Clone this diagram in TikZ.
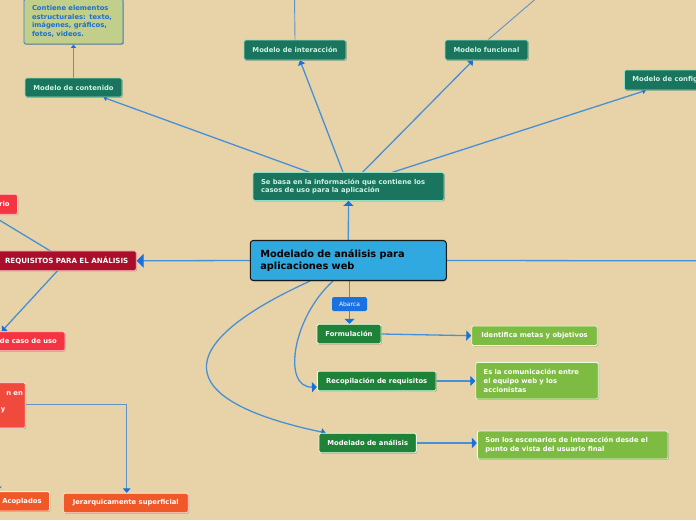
\documentclass[tikz,border=0pt]{standalone}
\usepackage{fontspec}
\usetikzlibrary{arrows.meta,shadows,calc}
\newfontfamily\dvsfam{DejaVu Sans}
\newcommand\dvs{\dvsfam\bfseries\fontsize{6.8}{8.7}\selectfont}
\newcommand\dvsbig{\dvsfam\bfseries\fontsize{9.8}{11.7}\selectfont}
\newcommand\dvssmall{\dvsfam\fontsize{6}{7}\selectfont}
\definecolor{bgc}{RGB}{232,211,168}
\definecolor{edgec}{RGB}{70,144,214}
\definecolor{arrc}{RGB}{22,112,224}
\definecolor{tealf}{RGB}{26,117,94}
\definecolor{tealb}{RGB}{150,222,196}
\definecolor{tealt}{RGB}{206,242,226}
\definecolor{centf}{RGB}{48,168,224}
\definecolor{abf}{RGB}{24,114,226}
\definecolor{grf}{RGB}{30,130,56}
\definecolor{lgf}{RGB}{126,187,66}
\definecolor{drf}{RGB}{170,14,42}
\definecolor{brf}{RGB}{244,52,64}
\definecolor{nenf}{RGB}{240,74,60}
\definecolor{orf}{RGB}{240,88,40}
\definecolor{olf}{RGB}{194,207,138}
\definecolor{olb}{RGB}{48,128,210}
\definecolor{olt}{RGB}{30,110,208}
\definecolor{thinc}{RGB}{96,146,196}
\pgfdeclarelayer{bgl}
\pgfdeclarelayer{edl}
\pgfsetlayers{bgl,edl,main}
\tikzset{
  basebox/.style={rounded corners=1.5pt, line width=0.8pt, inner xsep=8pt, inner ysep=2pt,
    font=\dvs, drop shadow={shadow xshift=0.8pt, shadow yshift=-0.8pt, opacity=0.25, fill=black}},
  tealbox/.style={basebox, fill=tealf, draw=tealb, text=tealt},
  olivebox/.style={basebox, fill=olf, draw=olb, text=olt},
  centralbox/.style={basebox, rounded corners=3pt, fill=centf, draw=black!90, line width=1.1pt, text=black, font=\dvsbig, inner xsep=10pt},
  abarcabox/.style={rounded corners=1.5pt, fill=abf, draw=none, text=white, font=\dvssmall, inner sep=1pt},
  greenbox/.style={basebox, fill=grf, draw=white!90!green, text=white},
  lgreenbox/.style={basebox, fill=lgf, draw=white!90!green, text=white},
  dredbox/.style={basebox, fill=drf, draw=red!25, text=white, font={\dvsfam\bfseries\fontsize{7.1}{8.7}\selectfont}},
  bredbox/.style={basebox, fill=brf, draw=red!20, text=white},
  nenbox/.style={basebox, fill=nenf, draw=white!90!red, text=white},
  orangebox/.style={basebox, fill=orf, draw=white!90!red, text=white},
  edge/.style={draw=edgec, line width=1.3pt},
  thinedge/.style={draw=thinc, line width=0.9pt},
  tipm/.style={-{Triangle[width=10pt,length=5pt,color=arrc]}},
  tipl/.style={-{Triangle[width=14pt,length=7pt,color=arrc]}},
  tips/.style={-{Triangle[width=5pt,length=3.5pt,color=arrc]}},
  tipmid/.style={-{Triangle[width=7.5pt,length=4.5pt,color=arrc]}},
}
\begin{document}
\begin{tikzpicture}[x=1pt,y=-1pt]
\useasboundingbox (0,0) rectangle (696,520);
\begin{pgfonlayer}{bgl}
  \fill[bgc] (0,0) rectangle (696,520);
\end{pgfonlayer}

% nodes
\node[olivebox, text width=83pt, align=left, minimum height=45pt] (contiene) at (73.5,21.5)
  {Contiene elementos\\estructurales: texto,\\imágenes, gráficos,\\fotos, videos.};
\node[tealbox, minimum width=97pt, minimum height=19pt] (contenido) at (73.5,87.5) {Modelo de contenido};
\node[tealbox, minimum width=102pt, minimum height=20pt] (interaccion) at (295,50) {Modelo de interacción};
\node[tealbox, minimum width=83pt, minimum height=20pt] (funcional) at (486.5,50) {Modelo funcional};
\node[tealbox, anchor=west, minimum height=20pt] (config) at (624,80) {Modelo de configuración};
\node[tealbox, text width=175pt, align=left, minimum height=28pt] (sebasa) at (348.5,186.5)
  {Se basa en la información que contiene los\\casos de uso para la aplicación};
\node[centralbox, text width=176pt, align=left, minimum height=40pt] (central) at (348.3,260.5)
  {Modelado de análisis para\\aplicaciones web};
\node[abarcabox, minimum width=35pt, minimum height=14pt] (abarca) at (349.5,304) {Abarca};
\node[greenbox, minimum width=64pt, minimum height=19.5pt] (formulacion) at (349,334) {Formulación};
\node[lgreenbox, minimum width=125.6pt, minimum height=19.5pt] (identifica) at (534.5,335.7) {Identifica metas y objetivos};
\node[greenbox, minimum width=118.7pt, minimum height=19.7pt] (recopilacion) at (376.7,381) {Recopilación de requisitos};
\node[lgreenbox, text width=106.6pt, align=left, minimum height=36.7pt] (esla) at (537,380.7)
  {Es la comunicación entre\\el equipo web y los\\accionistas};
\node[greenbox, minimum width=97.3pt, minimum height=19.4pt] (modelado) at (367.7,443) {Modelado de análisis};
\node[lgreenbox, text width=174.7pt, align=left, minimum height=28pt] (sonlos) at (572.7,445)
  {Son los escenarios de interacción desde el\\punto de vista del usuario final};

\node[dredbox, anchor=east, minimum height=19.7pt] (requisitos) at (136.7,260.8) {REQUISITOS PARA EL ANÁLISIS};
\node[bredbox, anchor=east, minimum height=20pt] (rio) at (18,204.3) {rio};
\node[bredbox, anchor=east, minimum height=19pt] (caso) at (65.3,341.2) {de caso de uso};
\node[nenbox, anchor=north east, inner xsep=2.4pt, text width=60pt, align=right, minimum height=45.4pt,
  font={\dvsfam\bfseries\fontsize{6.8}{8}\selectfont}] (nen) at (25.7,382.3)
  {\makebox[22pt][r]{n en}\\\mbox{}\\\makebox[22pt][l]{y}\\\mbox{}};
\node[orangebox, anchor=east, minimum height=19.4pt] (acoplados) at (50,501.3) {Acoplados};
\node[orangebox, minimum width=125pt, minimum height=19.4pt] (jerarq) at (125.8,503) {Jerarquicamente superficial};

\coordinate (offright) at (700,260.8);
\coordinate (offinter) at (294.5,-4);
\coordinate (offfunc) at (539,-4);
\coordinate (offrio) at (-14,212);

% connectors
\begin{pgfonlayer}{edl}
  \draw[edge,tipm] (central.north) -- (sebasa.south);
  \draw[edge,tips] (sebasa.center) -- ([xshift=-19pt]contenido.south east);
  \draw[edge,tipmid] (sebasa.center) -- ([xshift=5pt]interaccion.south);
  \draw[edge,tipmid] (sebasa.center) -- ([xshift=-13.5pt]funcional.south);
  \draw[edge,tips] (sebasa.center) -- ([xshift=22pt]config.south west);
  \draw[thinedge,tips] (contenido.north) -- (contiene.south);
  \draw[thinedge] (interaccion.north) -- (offinter);
  \draw[thinedge] ([xshift=1.7pt]funcional.north) -- (offfunc);
  \draw[edge,tipl] (central.west) -- (requisitos.east);
  \draw[edge] (central.east) -- (offright);
  \draw[edge] (requisitos.center) -- (offrio);
  \draw[edge,tipmid] (requisitos.center) -- ([xshift=-63.6pt]caso.north east);
  \draw[edge] (central.south -| abarca.north) -- (abarca.north);
  \draw[edge,tipm] (abarca.south) -- (formulacion.north -| abarca.south);
  \draw[edge,tipm] ([xshift=-15.3pt]central.south) .. controls (292,318) and (282,388) .. ([yshift=-6pt]recopilacion.west);
  \draw[edge,tipmid] ([xshift=-38.3pt]central.south) .. controls (170,345) and (170,400) .. ([xshift=-42pt]modelado.north);
  \draw[edge,tipm] (formulacion.east) -- (identifica.west);
  \draw[edge,tipm] (recopilacion.east) -- (esla.west |- recopilacion.east);
  \draw[edge,tipm] (modelado.east) -- (sonlos.west |- modelado.east);
  \draw[thinedge,line width=1.1pt,tipmid] (nen.east |- 0,404.3) -| (jerarq.north -| 126.7,0);
  \draw[thinedge,tipmid] ([xshift=-6pt]nen.south west -| 0,0) -- ([xshift=-2pt]acoplados.north west -| 0,0);
\end{pgfonlayer}
\end{tikzpicture}
\end{document}
